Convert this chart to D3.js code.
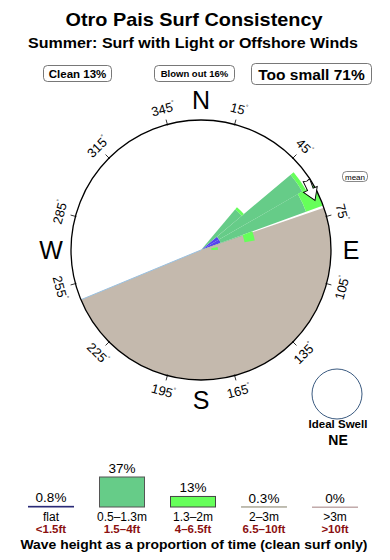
<!doctype html>
<html>
<head>
<meta charset="utf-8"/>
<title>Otro Pais Surf Consistency</title>
<script src="https://d3js.org/d3.v7.min.js"></script>
<style>
body { margin: 0; background: #fff; }
text { font-family: "Liberation Sans", Arial, sans-serif; }
</style>
</head>
<body>
<script>
// ---- data ----
var titleText = "Otro Pais Surf Consistency";
var subtitleText = "Summer: Surf with Light or Offshore Winds";

var summaryNames = ["Clean", "Blown out", "Too small"];
var summaryPct = [13, 16, 71];

var compassNames = ["N", "E", "S", "W"];
var compassDirs = [0, 90, 180, 270];
var degreeTicks = [15, 45, 75, 105, 135, 165, 195, 225, 255, 285, 315, 345];

// rose bins, 10 degrees wide, start bearing
var roseBins = [40, 50, 60, 70, 80];
// cumulative outer edge of each class, % of the rose radius
var roseFlat = [0, 16, 16, 0, 0];
var roseMid = [41, 90, 86, 34, 8];
var roseHigh = [43, 93, 100, 42, 13];

// blown-out wind sector (bearings)
var blownFrom = 71;
var blownTo = 247.5;
var meanDir = 61;
var idealSwell = "NE";

var legendHeights = ["flat", "0.5\u20131.3m", "1.3\u20132m", "2\u20133m", ">3m"];
var legendFeet = ["<1.5ft", "1.5\u20134ft", "4\u20136.5ft", "6.5\u201310ft", ">10ft"];
var legendPct = [0.8, 37, 13, 0.3, 0];

// ---- drawing ----
var svg = d3.select("body").append("svg")
  .attr("width", 390)
  .attr("height", 560);

var cx = 201, cy = 250, R = 130;
var rad = Math.PI / 180;

function polar(b, r) {
  return [cx + r * Math.sin(b * rad), cy - r * Math.cos(b * rad)];
}

svg.append("text").attr("x", 194).attr("y", 26)
  .attr("text-anchor", "middle").attr("font-size", 18.5).attr("font-weight", "bold")
  .attr("textLength", 257).attr("lengthAdjust", "spacingAndGlyphs")
  .text(titleText);
svg.append("text").attr("x", 193).attr("y", 48)
  .attr("text-anchor", "middle").attr("font-size", 14).attr("font-weight", "bold")
  .attr("textLength", 330).attr("lengthAdjust", "spacingAndGlyphs")
  .text(subtitleText);

// summary boxes
var boxX = [43, 154, 251], boxW = [68, 80, 120], boxY = [65, 65, 63], boxH = [16, 16, 21];
var boxFont = [11.5, 9.5, 15.5], boxBase = [77.5, 77, 79.5];
summaryNames.forEach(function(n, i) {
  svg.append("rect").attr("x", boxX[i] + 0.5).attr("y", boxY[i] + 0.5)
    .attr("width", boxW[i]).attr("height", boxH[i]).attr("rx", 4)
    .attr("fill", "#fff").attr("stroke", "#555").attr("stroke-width", 0.8);
  svg.append("text").attr("x", boxX[i] + boxW[i] / 2 + 0.5).attr("y", boxBase[i])
    .attr("text-anchor", "middle").attr("font-size", boxFont[i]).attr("font-weight", "bold")
    .text(n + " " + summaryPct[i] + "%");
});

var rScale = d3.scaleLinear().domain([0, 100]).range([0, R]);
var arc = d3.arc();
var g = svg.append("g").attr("transform", "translate(" + cx + "," + cy + ")");

function ring(inner, outer, color) {
  roseBins.forEach(function(b, i) {
    var r0 = inner ? rScale(inner[i]) : 0;
    var r1 = rScale(outer[i]);
    if (r1 <= r0) return;
    g.append("path")
      .attr("d", arc({innerRadius: r0, outerRadius: r1, startAngle: b * rad, endAngle: (b + 10) * rad}))
      .attr("fill", color);
  });
}

ring(null, roseFlat, "#5544ee");
ring(roseFlat, roseMid, "#66cc88");

// blown out sector
g.append("path")
  .attr("d", arc({innerRadius: 0, outerRadius: R, startAngle: blownFrom * rad, endAngle: blownTo * rad}))
  .attr("fill", "#c4b9ad");
var e1 = polar(blownTo, R - 1);
svg.append("line").attr("x1", cx).attr("y1", cy).attr("x2", e1[0]).attr("y2", e1[1])
  .attr("stroke", "#99c0e0").attr("stroke-width", 1);

ring(roseMid, roseHigh, "#66ff5a");

// outer circle and ticks
svg.append("circle").attr("cx", cx).attr("cy", cy).attr("r", R)
  .attr("fill", "none").attr("stroke", "#000").attr("stroke-width", 1.3);

degreeTicks.forEach(function(d) {
  var p0 = polar(d, R - 1), p1 = polar(d, R + 5);
  svg.append("line").attr("x1", p0[0]).attr("y1", p0[1]).attr("x2", p1[0]).attr("y2", p1[1])
    .attr("stroke", "#000").attr("stroke-width", 0.8);
  var p = polar(d, 146);
  var rot = (d > 90 && d < 270) ? d - 180 : d;
  var t = svg.append("text")
    .attr("transform", "translate(" + p[0] + "," + p[1] + ") rotate(" + rot + ")")
    .attr("text-anchor", "middle").attr("dy", "0.35em").attr("font-size", 13)
    .text(d);
  t.append("tspan").attr("font-size", 6).attr("dy", "-1.1em").text("\u00b0");
});

compassNames.forEach(function(n, i) {
  var p = polar(compassDirs[i], 150);
  svg.append("text").attr("x", p[0]).attr("y", p[1])
    .attr("text-anchor", "middle").attr("dy", "0.36em").attr("font-size", 25)
    .text(n);
});

// mean direction arrow
var ap = polar(meanDir, 125);
svg.append("path")
  .attr("transform", "translate(" + ap[0] + "," + ap[1] + ") rotate(" + (meanDir + 6) + ")")
  .attr("d", "M12,0 L0,-7.5 L0,-3 L-10,-3.5 L-9,0 L-10,3.5 L0,3 L0,7.5 Z")
  .attr("fill", "#fff").attr("stroke", "#000").attr("stroke-width", 0.9);

svg.append("rect").attr("x", 342.5).attr("y", 171.5).attr("width", 25).attr("height", 10).attr("rx", 4)
  .attr("fill", "#fff").attr("stroke", "#555").attr("stroke-width", 0.7);
svg.append("text").attr("x", 355).attr("y", 179.5).attr("text-anchor", "middle")
  .attr("font-size", 8).text("mean");

// ideal swell
svg.append("circle").attr("cx", 337).attr("cy", 394).attr("r", 25)
  .attr("fill", "none").attr("stroke", "#3a5a80").attr("stroke-width", 1);
svg.append("text").attr("x", 338).attr("y", 428).attr("text-anchor", "middle")
  .attr("font-size", 11.5).attr("font-weight", "bold").text("Ideal Swell");
svg.append("text").attr("x", 338).attr("y", 445).attr("text-anchor", "middle")
  .attr("font-size", 14).attr("font-weight", "bold").text(idealSwell);

// wave height legend
var legX = d3.scalePoint().domain(legendHeights).range([51, 335]);
var legH = d3.scaleLinear().domain([0, 37]).range([0, 30]);
var baseY = 507;
var legFill = ["#5544ee", "#66cc88", "#66ff5a", "#c4b9ad", "#d8c4c4"];
var legStroke = ["#2a2a77", "#555", "#444", "#aaa898", "#bda5a5"];

legendHeights.forEach(function(c, i) {
  var x = legX(c), h = legH(legendPct[i]);
  svg.append("rect").attr("x", x - 22.5).attr("y", baseY - h)
    .attr("width", 45).attr("height", Math.max(h, 0.4))
    .attr("fill", legFill[i]).attr("stroke", legStroke[i]).attr("stroke-width", 1);
  svg.append("text").attr("x", x).attr("y", baseY - h - 4)
    .attr("text-anchor", "middle").attr("font-size", 13.5).text(legendPct[i] + "%");
  svg.append("text").attr("x", x).attr("y", 521)
    .attr("text-anchor", "middle").attr("font-size", 12).text(c);
  svg.append("text").attr("x", x).attr("y", 532.5)
    .attr("text-anchor", "middle").attr("font-size", 11.5).attr("font-weight", "bold")
    .attr("fill", "#8b1010").text(legendFeet[i]);
});

svg.append("text").attr("x", 194).attr("y", 549).attr("text-anchor", "middle")
  .attr("font-size", 13.5).attr("font-weight", "bold")
  .attr("textLength", 347).attr("lengthAdjust", "spacingAndGlyphs")
  .text("Wave height as a proportion of time (clean surf only)");
</script>
</body>
</html>
